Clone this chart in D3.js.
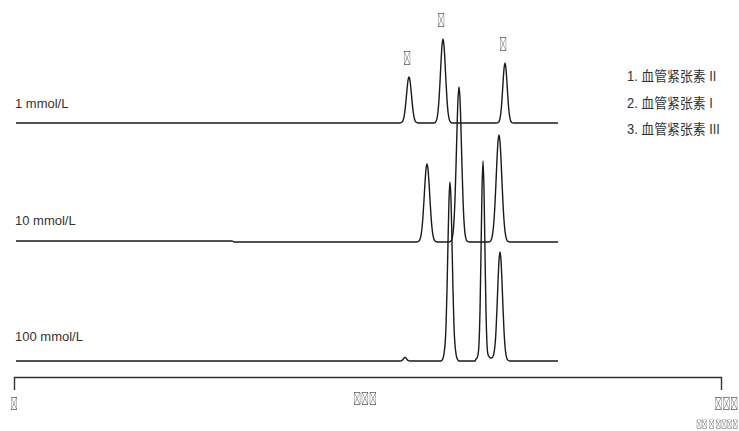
<!DOCTYPE html>
<html>
<head>
<meta charset="utf-8">
<script src="https://cdn.jsdelivr.net/npm/d3@7"></script>
<style>
  html, body { margin: 0; padding: 0; background: #fff; }
  svg { display: block; }
  text { font-family: "Liberation Sans", "Noto Sans CJK SC", sans-serif; fill: #333; }
  text.mark { font-family: "Noto Sans CJK SC", sans-serif; fill: #5a5a5a; }
  g.marks { filter: grayscale(100%); }
</style>
</head>
<body>
<svg id="chart" width="739" height="431"></svg>
<script>
// Buffer concentrations, one electropherogram per concentration
const concentrations = ["1 mmol/L", "10 mmol/L", "100 mmol/L"];

// Detector signal [time (min), signal], one array per trace
const trace1mM = [
  [0.1,0],[19.3,0],[19.4,0.9],[19.45,2.6],[19.5,6.2],[19.55,12.8],[19.6,22.4],[19.65,33.4],[19.7,42.5],[19.75,46],
  [19.8,42.5],[19.85,33.4],[19.9,22.4],[19.95,12.8],[20.0,6.2],[20.05,2.6],[20.1,0.9],[20.2,0],
  [21.0,0],[21.1,1.7],[21.15,4.7],[21.2,11.3],[21.25,23.4],[21.3,40.9],[21.35,61.0],[21.4,77.5],[21.45,84],
  [21.5,77.5],[21.55,61.0],[21.6,40.9],[21.65,23.4],[21.7,11.3],[21.75,4.7],[21.8,1.7],[21.9,0],
  [24.1,0],[24.2,0.4],[24.25,1.4],[24.3,4.6],[24.35,11.5],[24.4,23.7],[24.45,39.7],[24.5,54.1],[24.55,60],
  [24.6,54.1],[24.65,39.7],[24.7,23.7],[24.75,11.5],[24.8,4.6],[24.85,1.4],[24.9,0.4],[25.0,0],[27.2,0]
];
const trace10mM = [
  [0.1,1],[10.9,1],[11.0,0],
  [20.15,0],[20.25,0.9],[20.3,2.7],[20.35,6.6],[20.4,14.0],[20.45,26.1],[20.5,42.0],[20.55,59.3],[20.6,72.9],[20.65,78],
  [20.7,72.9],[20.75,59.3],[20.8,42.0],[20.85,26.1],[20.9,14.0],[20.95,6.6],[21.0,2.7],[21.05,0.9],[21.15,0],
  [21.75,0],[21.85,0.9],[21.9,3.1],[21.95,8.7],[22.0,20.9],[22.05,43.1],[22.1,75.5],[22.15,112.5],[22.2,143.1],[22.25,155],
  [22.3,143.1],[22.35,112.5],[22.4,75.5],[22.45,43.1],[22.5,20.9],[22.55,8.7],[22.6,3.1],[22.65,0.9],[22.75,0],
  [23.75,0],[23.8,0.6],[23.85,1.8],[23.9,4.7],[23.95,10.8],[24.0,21.7],[24.05,38.5],[24.1,60.2],[24.15,82.9],[24.2,100.4],[24.25,107],
  [24.3,100.4],[24.35,82.9],[24.4,60.2],[24.45,38.5],[24.5,21.7],[24.55,10.8],[24.6,4.7],[24.65,1.8],[24.7,0.6],[24.8,0],[27.2,0]
];
const trace100mM = [
  [0.1,0],[19.3,0],[19.4,0.6],[19.45,1.6],[19.5,2.9],[19.55,3.5],[19.6,2.9],[19.65,1.6],[19.7,0.6],[19.8,0],
  [21.35,0],[21.4,0.9],[21.45,2.7],[21.5,7.2],[21.55,16.1],[21.6,34.2],[21.65,70.7],[21.7,118.3],[21.75,161.5],[21.8,179],
  [21.85,161.5],[21.9,118.3],[21.95,70.7],[22.0,34.2],[22.05,16.1],[22.1,7.2],[22.15,2.7],[22.2,0.9],[22.25,0],
  [23.05,0],[23.1,2.0],[23.15,3.0],[23.2,6.0],[23.25,17.0],[23.3,49.8],[23.35,107.8],[23.4,171.4],[23.45,200],
  [23.5,171.4],[23.55,107.8],[23.6,49.8],[23.65,17.0],[23.7,6.5],[23.75,4.5],[23.8,3.2],[23.85,3.0],[23.9,3.4],[23.95,4.5],
  [24.0,8.1],[24.05,15.7],[24.1,30.3],[24.15,53.1],[24.2,79.1],[24.25,100.6],[24.3,109],
  [24.35,100.6],[24.4,79.1],[24.45,53.1],[24.5,30.3],[24.55,14.7],[24.6,6.1],[24.65,2.2],[24.7,0.7],[24.8,0],[27.2,0]
];
const traces = [trace1mM, trace10mM, trace100mM];

// Peak markers on the top trace (migration times) and their labels
const peakTimes = [19.75, 21.45, 24.55];
const peakLabels = ["\uE001", "\uE002", "\uE003"];

// Legend entries
const legendItems = ["1. 血管紧张素 II", "2. 血管紧张素 I", "3. 血管紧张素 III"];

// Time axis texts
const timeDomain = [0, 35.35];
const axisStartLabel = "\uE010";
const axisTitle = "\uE011\uE012\uE013";
const axisEndLabel = "\uE014\uE015\uE016";
const axisUnitLabel = "\uE017\uE018 \uE019 \uE01A\uE01B\uE01C\uE01D";

const svg = d3.select("#chart");

const x = d3.scaleLinear().domain(timeDomain).range([14, 721]);
const baseY = d3.scalePoint().domain(concentrations).range([123, 361]);
const labelY = d3.scalePoint().domain(concentrations).range([108, 341]);
const signal = d3.scaleLinear().domain([0, 200]).range([0, -200]);

const line = d3.line()
  .x(d => x(d[0]))
  .y(d => signal(d[1]))
  .curve(d3.curveMonotoneX);

// Condensed text placed at (px, py)
function narrowText(parent, px, py, str, size, sx, anchor, cls) {
  return parent.append("text")
    .attr("class", cls || null)
    .attr("transform", `translate(${px},${py}) scale(${sx},1)`)
    .attr("text-anchor", anchor)
    .attr("font-size", size)
    .text(str);
}

// Electropherograms
svg.append("g")
  .selectAll("path")
  .data(concentrations)
  .join("path")
  .attr("transform", c => `translate(0,${baseY(c)})`)
  .attr("d", (c, i) => line(traces[i]))
  .attr("fill", "none")
  .attr("stroke", "#1a1a1a")
  .attr("stroke-width", 1.4)
  .attr("stroke-linejoin", "round");

// Concentration labels
svg.append("g")
  .selectAll("text")
  .data(concentrations)
  .join("text")
  .attr("x", x(0) + 1)
  .attr("y", c => labelY(c))
  .attr("font-size", 13)
  .text(c => c);

// Peak numbers above the 1 mmol/L trace
const peakValue = t => (trace1mM.find(d => Math.abs(d[0] - t) < 1e-6) || [t, 0])[1];
const peakG = svg.append("g").attr("class", "marks");
peakTimes.forEach((t, i) => {
  narrowText(peakG, x(t) - 2, baseY(concentrations[0]) + signal(peakValue(t)) - 14,
    peakLabels[i], 14, 0.55, "middle", "mark");
});

// Legend
const legendG = svg.append("g");
legendItems.forEach((d, i) => {
  narrowText(legendG, 627, 81 + i * 26.5, d, 14, 0.92, "start");
});

// Time axis: domain line with downward end ticks
const axis = d3.axisBottom(x).tickValues([]).tickSizeOuter(13);
const axisG = svg.append("g")
  .attr("transform", "translate(0,377)")
  .call(axis);
axisG.select(".domain").attr("stroke", "#333").attr("stroke-width", 1.4);

const axisText = axisG.append("g").attr("class", "marks");
narrowText(axisText, x(timeDomain[0]), 31, axisStartLabel, 13, 0.55, "middle", "mark");
narrowText(axisText, x(17.55), 26, axisTitle, 13, 0.6, "middle", "mark");
narrowText(axisText, 738, 31, axisEndLabel, 13, 0.6, "end", "mark");
narrowText(axisText, 738, 50, axisUnitLabel, 7.5, 0.75, "end", "mark");
</script>
</body>
</html>
